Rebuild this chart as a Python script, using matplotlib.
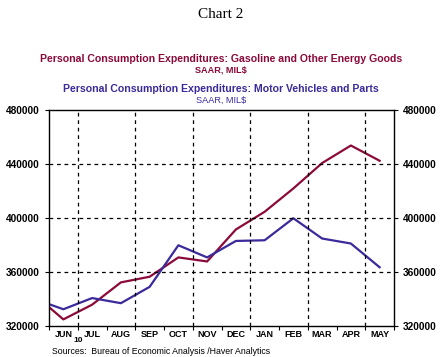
import numpy as np
import matplotlib
matplotlib.use("Agg")
import matplotlib.pyplot as plt

# monthly data, Jun 2010 - May 2011 (first point is the late-May reading at the left edge)
months = ["JUN", "JUL", "AUG", "SEP", "OCT", "NOV", "DEC", "JAN", "FEB", "MAR", "APR", "MAY"]
x_pos = [-0.5, 0, 1, 2, 3, 4, 5, 6, 7, 8, 9, 10, 11]
gasoline = [334000, 324900, 335800, 352300, 356500, 370800, 367800, 391500,
            404600, 421900, 440700, 453700, 442400]
motor_veh = [336200, 332400, 340700, 336900, 349000, 379800, 370800, 383000,
             383500, 399800, 384800, 381100, 363500]
yticks = [320000, 360000, 400000, 440000, 480000]

red = "#8B0A3A"
blue = "#3A2A9A"

fig = plt.figure(figsize=(4.42, 3.57), dpi=100)
ax = fig.add_axes([49/442, 1 - 326/357, (394 - 49)/442, (326 - 110)/357])

ax.plot(x_pos, gasoline, color=red, lw=1.6)
ax.plot(x_pos, motor_veh, color=blue, lw=1.6)

ax.set_xlim(-0.5, 11.5)
ax.set_ylim(320000, 480000)

# grid
for v in [360000, 400000, 440000]:
    ax.axhline(v, color="black", lw=0.9, ls=(0, (3, 3)))
for g in np.arange(0.5, 11, 2):
    ax.axvline(g, color="black", lw=0.9, ls=(0, (3, 3)))

ax.set_xticks(np.arange(-0.5, 12, 1))
ax.set_xticklabels([])
ax.set_xticks(np.arange(12), minor=True)
ax.set_xticklabels(months, minor=True, fontsize=6.5, fontweight="bold",
                   family="Liberation Sans")
ax.tick_params(axis="x", which="major", length=3, direction="out", width=0.8)
ax.tick_params(axis="x", which="minor", length=0, pad=3)

ax.set_yticks(yticks)
ax.set_yticklabels([str(v) for v in yticks], fontsize=7.3, fontweight="bold",
                   family="Liberation Sans")
ax.tick_params(axis="y", which="both", length=3, direction="out", width=0.8,
               left=True, right=True, labelleft=True, labelright=True)

for s in ax.spines.values():
    s.set_linewidth(1.0)

ax.text(0.5, -0.052, "10", transform=ax.get_xaxis_transform(), ha="center",
        va="top", fontsize=6, fontweight="bold", family="Liberation Sans")

fig.text(52/442, 1 - 351/357, "Sources:  Bureau of Economic Analysis /Haver Analytics",
         fontsize=6.3, family="Liberation Sans", va="center", ha="left")

fig.text(0.5, 1 - 15/357, "Chart 2", ha="center", va="center", fontsize=11,
         family="Liberation Serif")
fig.text(0.5, 1 - 59/357, "Personal Consumption Expenditures: Gasoline and Other Energy Goods",
         ha="center", va="center", fontsize=7.6, fontweight="bold", color=red,
         family="Liberation Sans")
fig.text(0.5, 1 - 70/357, "SAAR, MIL$", ha="center", va="center", fontsize=6.6,
         fontweight="bold", color=red, family="Liberation Sans")
fig.text(0.5, 1 - 89/357, "Personal Consumption Expenditures: Motor Vehicles and Parts",
         ha="center", va="center", fontsize=7.6, fontweight="bold", color=blue,
         family="Liberation Sans")
fig.text(0.5, 1 - 100/357, "SAAR, MIL$", ha="center", va="center", fontsize=6.6,
         color=blue, family="Liberation Sans")

fig.savefig("out.png", dpi=100)
